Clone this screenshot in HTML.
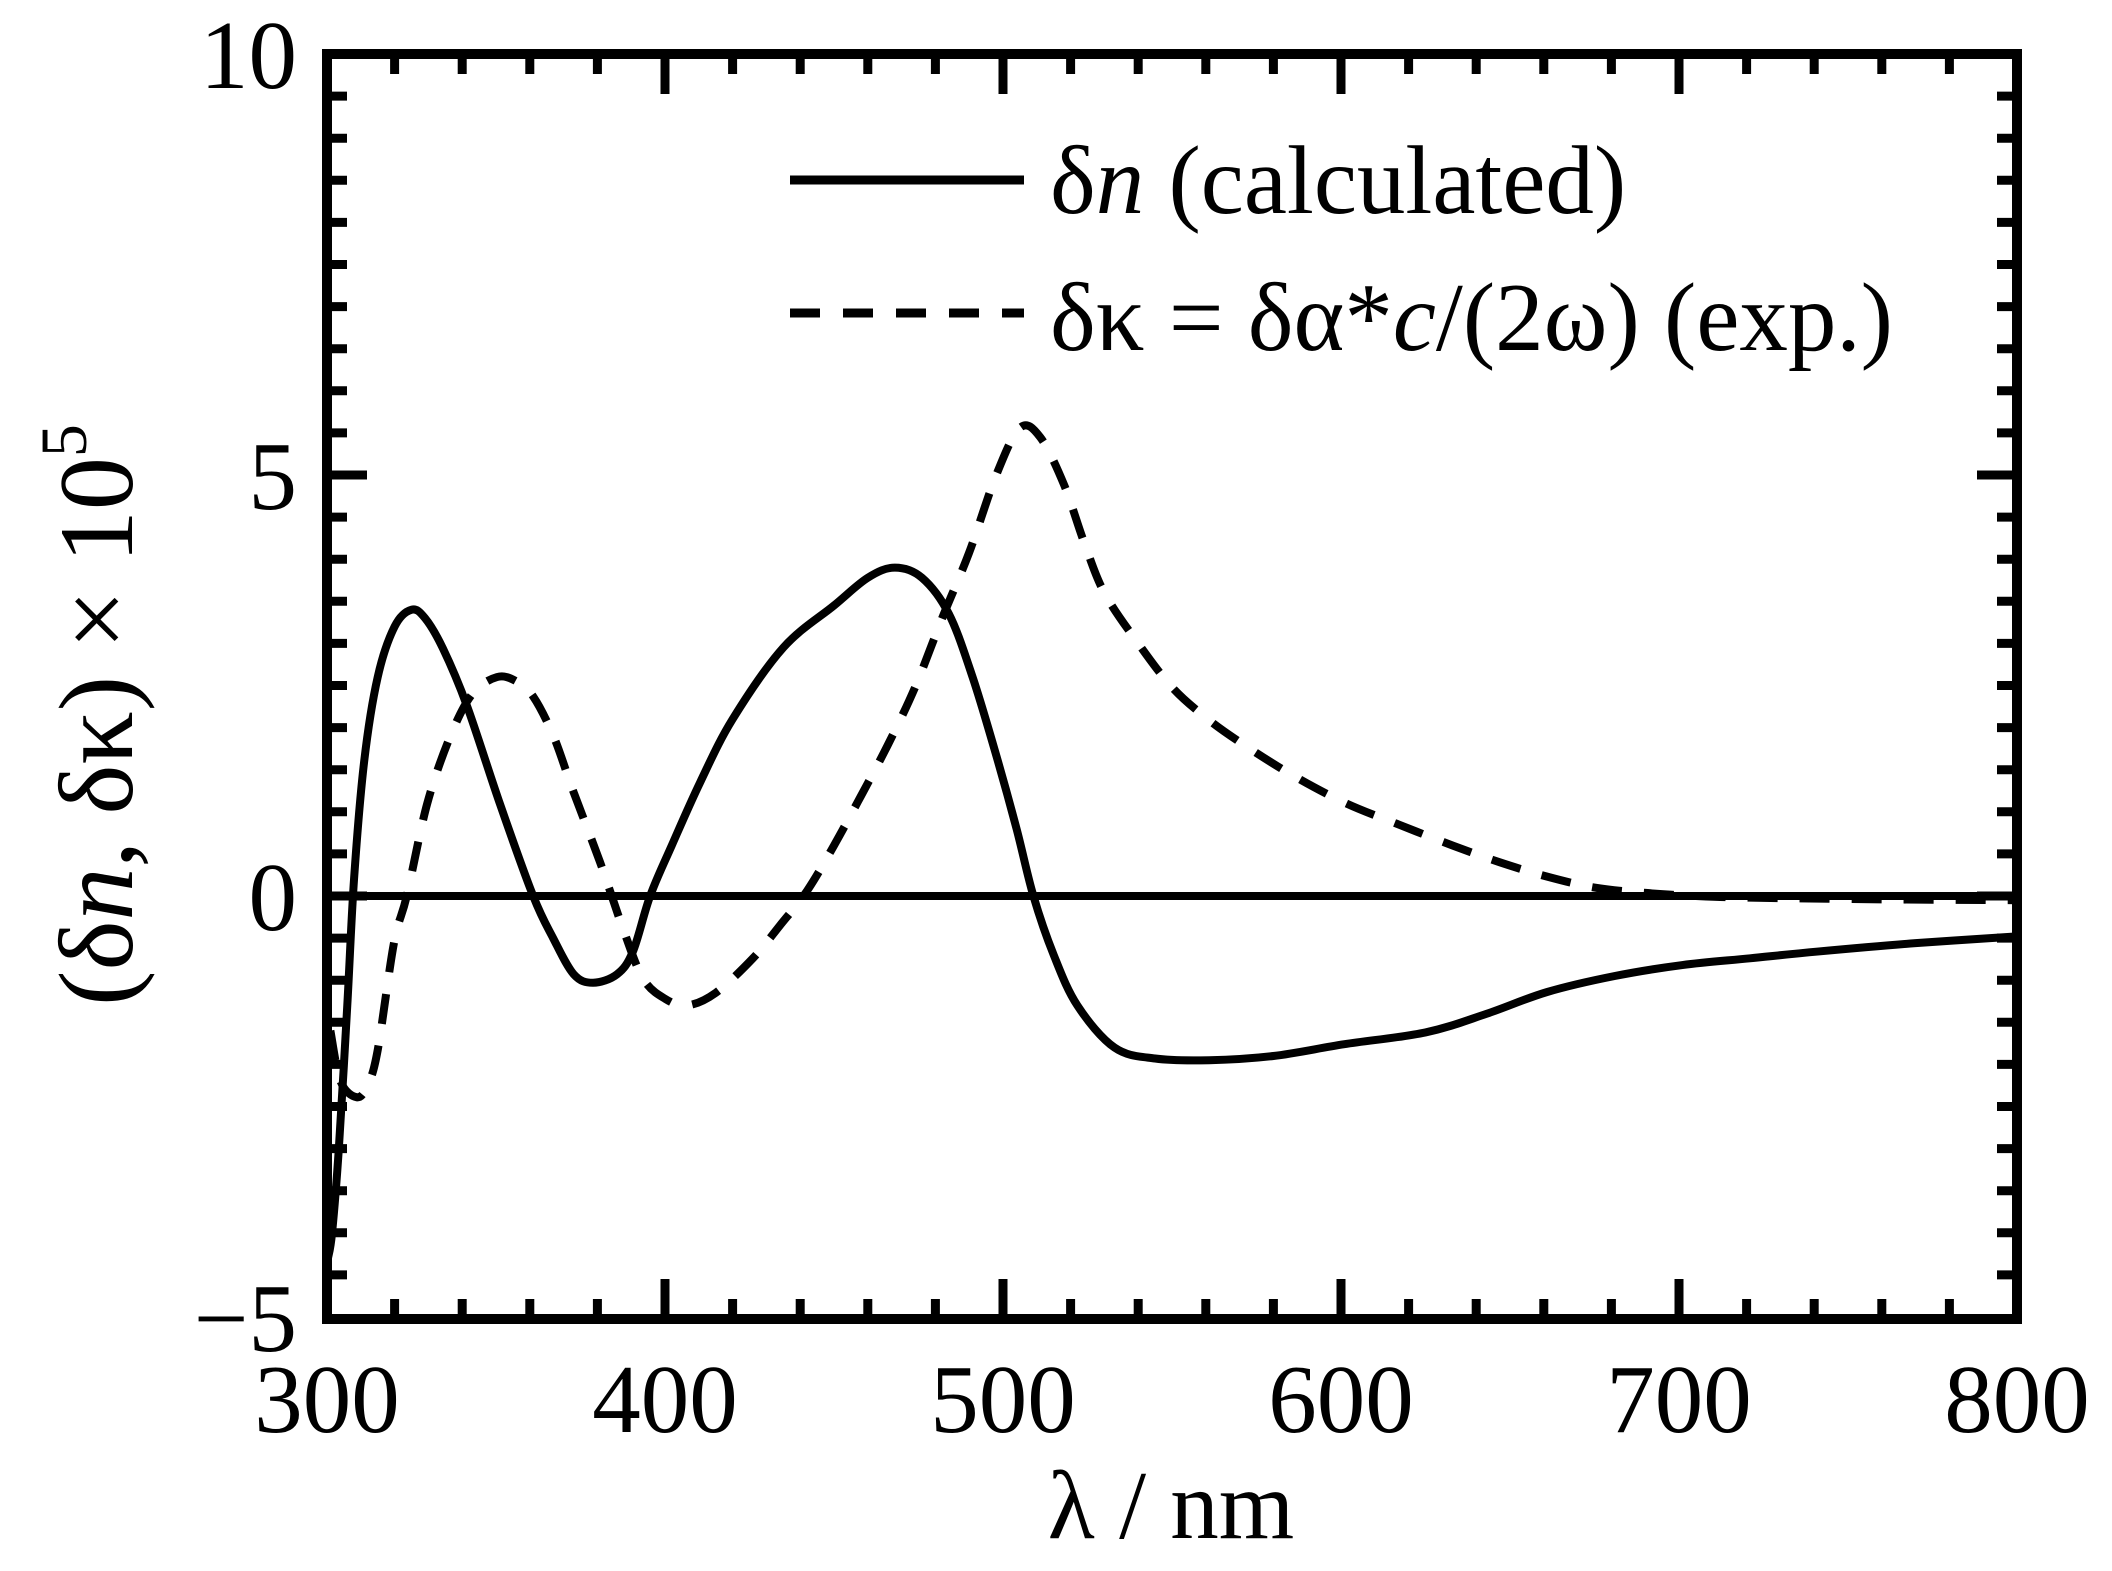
<!DOCTYPE html>
<html><head><meta charset="utf-8"><style>
html,body{margin:0;padding:0;background:#fff;}
svg{display:block;}
text{font-family:"Liberation Serif",serif;fill:#000;}
</style></head><body>
<svg id="s" width="2112" height="1571" viewBox="0 0 2112 1571" xmlns="http://www.w3.org/2000/svg">
<rect width="2112" height="1571" fill="#fff"/>
<g id="ticks" stroke="#000" stroke-width="9"></g>
<line x1="327" y1="896" x2="2017" y2="896" stroke="#000" stroke-width="8"/>
<path id="solid" fill="none" stroke="#000" stroke-width="8" stroke-linejoin="round"/>
<path id="dash" fill="none" stroke="#000" stroke-width="8" stroke-dasharray="30 22"/>
<rect x="327" y="54" width="1690" height="1265" fill="none" stroke="#000" stroke-width="10"/>
<g font-size="97" text-anchor="end">
<text x="297" y="88">10</text>
<text x="297" y="509">5</text>
<text x="297" y="930">0</text>
<text x="297" y="1351">−5</text>
</g>
<g font-size="97" text-anchor="middle">
<text x="327" y="1432">300</text>
<text x="665" y="1432">400</text>
<text x="1003" y="1432">500</text>
<text x="1341" y="1432">600</text>
<text x="1679" y="1432">700</text>
<text x="2017" y="1432">800</text>
</g>
<text x="1171" y="1538" font-size="97" text-anchor="middle">λ / nm</text>
<text transform="translate(132,715) rotate(-90)" font-size="106" text-anchor="middle">(δ<tspan font-style="italic">n</tspan>, δκ) × 10<tspan font-size="66" dy="-46">5</tspan></text>
<line x1="790" y1="180" x2="1024" y2="180" stroke="#000" stroke-width="9"/>
<line x1="790" y1="313" x2="1024" y2="313" stroke="#000" stroke-width="9" stroke-dasharray="30 23"/>
<text x="1050" y="213" font-size="97">δ<tspan font-style="italic">n</tspan> (calculated)</text>
<text x="1050" y="350" font-size="97">δκ = δα*<tspan font-style="italic">c</tspan>/(2ω) (exp.)</text>
</svg>
<script>
function X(l){return 327+(l-300)*3.38;}
function Y(v){return 896-v*84.2;}
var solid=[[300.3,-4.3],[301.5,-4.0],[303.5,-3.0],[306,-1.3],[308,0.2],[311,1.6],[315,2.6],[320,3.2],[325,3.40],[329,3.3],[334.3,2.94],[341.4,2.26],[351.2,1.09],[361,0],[366.9,-0.5],[373,-0.93],[378.7,-1.03],[385.8,-0.93],[390.5,-0.66],[395.6,0],[402,0.6],[410.4,1.35],[420,2.1],[435,2.95],[450,3.45],[460,3.78],[468,3.9],[476,3.78],[484,3.35],[491,2.6],[498,1.67],[504,0.8],[509,0],[515,-0.7],[522,-1.3],[533,-1.8],[545,-1.93],[561,-1.95],[580,-1.9],[601,-1.76],[625,-1.62],[643,-1.4],[661,-1.14],[681,-0.95],[701,-0.82],[721,-0.74],[741,-0.66],[770,-0.56],[800,-0.48]];
var dash=[[301,-1.6],[304,-2.2],[308.8,-2.39],[312,-2.25],[315,-1.83],[319.8,-0.56],[323.6,0],[329.6,1.09],[336.4,1.89],[343,2.4],[350.3,2.6],[356,2.55],[361,2.37],[367,1.9],[372.8,1.25],[380.8,0.4],[387.6,-0.39],[393.5,-0.98],[400,-1.22],[406.5,-1.3],[415,-1.15],[426,-0.74],[434,-0.35],[442,0.06],[450,0.6],[458,1.19],[466,1.8],[474,2.48],[482,3.3],[490,4.08],[498,5.0],[505,5.56],[511,5.45],[518,4.89],[524,4.2],[530,3.6],[540,3.0],[550,2.48],[560,2.12],[570,1.83],[585,1.45],[601,1.11],[617,0.85],[633,0.6],[647,0.4],[661,0.23],[675,0.1],[689,0.04],[705,0.0],[721,-0.02],[760,-0.04],[800,-0.05]];
function path(d){var p=d.map(function(a){return [X(a[0]),Y(a[1])];});var s="M"+p[0][0]+","+p[0][1];
for(var i=0;i<p.length-1;i++){var p0=p[i-1]||p[i],p1=p[i],p2=p[i+1],p3=p[i+2]||p2;
s+=" C"+(p1[0]+(p2[0]-p0[0])/6)+","+(p1[1]+(p2[1]-p0[1])/6)+" "+(p2[0]-(p3[0]-p1[0])/6)+","+(p2[1]-(p3[1]-p1[1])/6)+" "+p2[0]+","+p2[1];}return s;}
document.getElementById("solid").setAttribute("d",path(solid));
document.getElementById("dash").setAttribute("d",path(dash));
var g=document.getElementById("ticks"),h="";
for(var l=320;l<800;l+=20){var x=X(l),L=(l%100==0)?40:20;h+='<line x1="'+x+'" y1="54" x2="'+x+'" y2="'+(54+L)+'"/><line x1="'+x+'" y1="1319" x2="'+x+'" y2="'+(1319-L)+'"/>';}
for(var v=-4.5;v<10;v+=0.5){var y=Y(v),L=(Math.abs(v%5)<0.01)?40:20;h+='<line x1="327" y1="'+y+'" x2="'+(327+L)+'" y2="'+y+'"/><line x1="2017" y1="'+y+'" x2="'+(2017-L)+'" y2="'+y+'"/>';}
g.innerHTML=h;
</script>
</body></html>
